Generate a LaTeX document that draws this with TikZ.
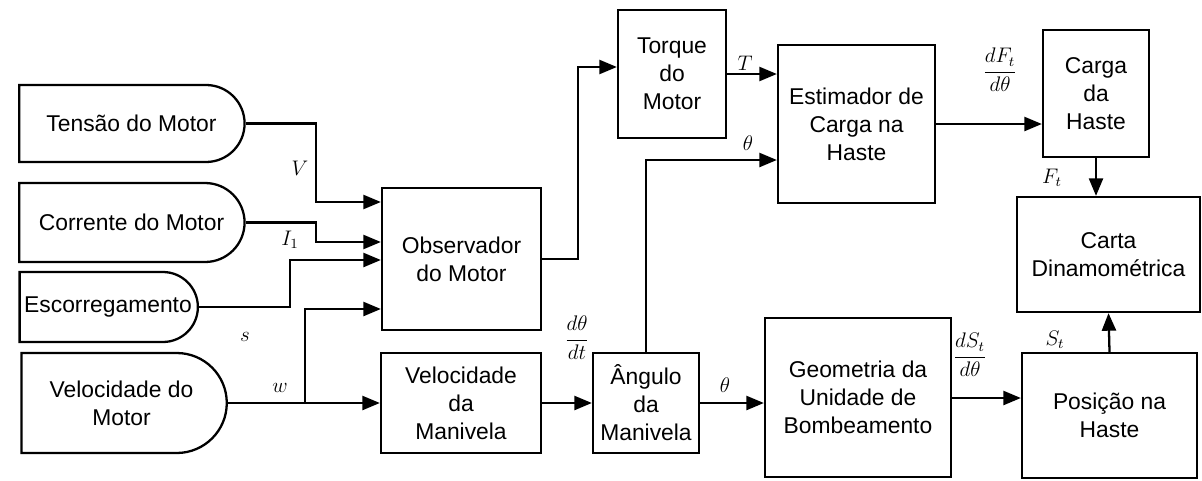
\documentclass[tikz,border=0pt]{standalone}
\usepackage{amsmath}
\usepackage{fontspec}
\setmainfont{Liberation Sans}
\usetikzlibrary{shapes.misc,arrows.meta,positioning,calc}

\begin{document}
\begin{tikzpicture}[
    x=0.02cm, y=-0.02cm,
    font=\fontsize{13}{16}\selectfont,
    box/.style={rectangle, align=center, draw=black, line width=1.3pt, inner sep=2pt},
    term/.style={rounded rectangle, rounded rectangle west arc=none, align=center, draw=black, line width=1.3pt},
    arrow/.style={-{Triangle[length=10pt,width=8pt]}, line width=1.3pt},
    lbl/.style={font=\fontsize{12}{14}\selectfont, inner sep=1pt},
]
\useasboundingbox (0,0) rectangle (1202,480);

% Entradas do motor
\node[term, minimum width=4.74cm, minimum height=1.54cm] (tension) at (131.5,123.5) {Tensão do Motor};
\node[term, minimum width=4.74cm, minimum height=1.58cm] (current) at (131.5,222.5) {Corrente do Motor};
\node[term, minimum width=3.8cm, minimum height=1.4cm] (slip) at (108,307) {Escorregamento};
\node[term, minimum width=4.34cm, minimum height=2.0cm] (speed) at (121.5,403) {Velocidade do\\Motor};

% Blocos
\node[box, minimum width=3.18cm, minimum height=2.84cm] (observer) at (461.5,259) {Observador\\do Motor};
\node[box, minimum width=3.2cm, minimum height=2.0cm] (crank) at (461,403) {Velocidade\\da\\Manivela};
\node[box, minimum width=2.16cm, minimum height=2.56cm] (torque) at (672,74) {Torque\\do\\Motor};
\node[box, minimum width=3.14cm, minimum height=3.16cm] (estimator) at (856.5,124) {Estimador de\\Carga na\\Haste};
\node[box, minimum width=2.12cm, minimum height=2.0cm] (angle) at (646,403) {Ângulo\\da\\Manivela};
\node[box, minimum width=3.72cm, minimum height=3.18cm] (geometry) at (858,397.5) {Geometria da\\Unidade de\\Bombeamento};
\node[box, minimum width=2.12cm, minimum height=2.54cm] (rodload) at (1096,93.5) {Carga\\da\\Haste};
\node[box, minimum width=3.66cm, minimum height=2.3cm] (card) at (1108.5,254.5) {Carta\\Dinamométrica};
\node[box, minimum width=3.5cm, minimum height=2.5cm] (position) at (1109.5,415.5) {Posição na\\Haste};

% Conexoes
\draw[arrow] (tension.east) -| (316,202) -- (observer.west |- 0,202);
\draw[arrow] (current.east) -| (316,242) -- (observer.west |- 0,242);
\draw[arrow] (slip.east) -| (290,260) -- (observer.west |- 0,260);
\draw[arrow] (speed.east) -- (crank.west);
\coordinate (wsplit) at (305,403);
\draw[arrow] (wsplit) |- (observer.west |- 0,309);
\draw[arrow] (observer.east) -| (578,67) -- (torque.west |- 0,67);
\draw[arrow] (torque.east) -- (estimator.west |- torque.east);
\draw[arrow] (angle.north) |- (estimator.west |- 0,160);
\draw[arrow] (estimator.east) -- (rodload.west |- estimator.east);
\draw[arrow] (rodload.south) -- (rodload.south |- card.north);
\draw[arrow] (crank.east) -- (angle.west);
\draw[arrow] (angle.east) -- (geometry.west |- angle.east);
\draw[arrow] (geometry.east |- 0,398) -- (position.west |- 0,398);
\draw[arrow] (position.north) -- (card.south);

% Rotulos
\node[lbl] (lv) at (300,168) {$V$};
\node[lbl] (li) at (290,240) {$I_1$};
\node[lbl] (ls) at (245,337) {$s$};
\node[lbl] (lw) at (280,388) {$w$};
\node[lbl] (lt) at (745,63) {$T$};
\node[lbl] (lth1) at (748,143) {$\theta$};
\node[lbl] (ldth) at (577,338) {$\dfrac{d\theta}{dt}$};
\node[lbl] (lth2) at (725,385) {$\theta$};
\node[lbl] (ldf) at (1000,70) {$\dfrac{dF_t}{d\theta}$};
\node[lbl] (lds) at (970,355) {$\dfrac{dS_t}{d\theta}$};
\node[lbl] (lf) at (1052,178) {$F_t$};
\node[lbl] (lst) at (1055,340) {$S_t$};

\end{tikzpicture}
\end{document}
